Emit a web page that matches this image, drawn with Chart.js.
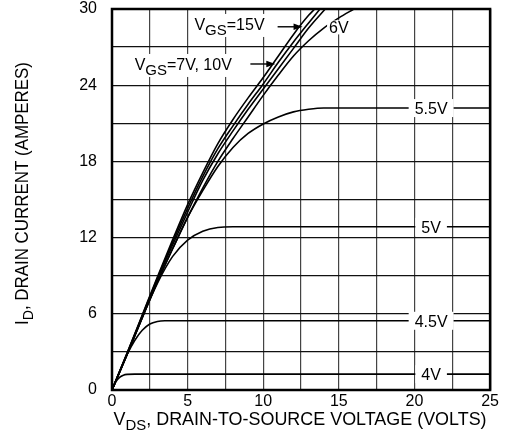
<!DOCTYPE html>
<html><head><meta charset="utf-8">
<script src="https://cdn.jsdelivr.net/npm/chart.js@4/dist/chart.umd.min.js"></script>
<style>html,body{margin:0;padding:0;background:#fff}#wrap{width:505px;height:432px;position:relative}</style>
</head><body><div id="wrap"><canvas id="c"></canvas></div>
<script>
// ---------- data ----------
const xTickLabels = [0, 5, 10, 15, 20, 25];
const yTickLabels = [0, 6, 12, 18, 24, 30];

const vds_15V = [0, 1, 2, 3, 4, 5, 6, 7, 8, 9, 10, 11, 12, 13, 13.4];
const id_15V  = [0, 2.9, 5.9, 8.9, 11.8, 14.6, 17.1, 19.4, 21.3, 23.0, 24.6, 26.3, 28.0, 29.5, 30];

const vds_10V = [0, 1, 2, 3, 4, 5, 6, 7, 8, 9, 10, 11, 12, 13, 13.75];
const id_10V  = [0, 2.9, 5.85, 8.8, 11.6, 14.3, 16.8, 19.0, 20.8, 22.5, 24.1, 25.8, 27.4, 28.9, 30];

const vds_7V = [0, 1, 2, 3, 4, 5, 6, 7, 8, 9, 10, 11, 12, 13, 14.1];
const id_7V  = [0, 2.85, 5.8, 8.7, 11.4, 14.0, 16.5, 18.6, 20.4, 22.1, 23.7, 25.3, 26.9, 28.5, 30];

const vds_6V = [0, 1, 2, 3, 4, 5, 6, 7, 8, 9, 10, 11, 12, 13, 14, 15, 16];
const id_6V  = [0, 2.8, 5.7, 8.5, 11.1, 13.6, 15.9, 18.0, 19.8, 21.5, 23.2, 24.8, 26.3, 27.5, 28.5, 29.3, 30];

const vds_5_5V = [0, 1, 2, 3, 4, 5, 6, 7, 8, 9, 10, 11, 12, 13, 14, 25];
const id_5_5V  = [0, 2.8, 5.7, 8.5, 11.1, 13.6, 15.7, 17.6, 19.1, 20.2, 20.95, 21.5, 21.9, 22.1, 22.2, 22.2];

const vds_5V = [0, 1, 2, 3, 4, 5, 6, 7, 8, 25];
const id_5V  = [0, 2.8, 5.7, 8.4, 10.5, 11.8, 12.5, 12.8, 12.85, 12.85];

const vds_4_5V = [0, 0.5, 1, 1.5, 2, 2.5, 3, 3.5, 25];
const id_4_5V  = [0, 1.45, 2.8, 3.9, 4.7, 5.2, 5.4, 5.45, 5.45];

const vds_4V = [0, 0.25, 0.5, 0.75, 1, 1.5, 25];
const id_4V  = [0, 0.65, 1.0, 1.17, 1.23, 1.25, 1.25];

// ---------- chart ----------
const FONT = '"Liberation Sans", Arial, Helvetica, sans-serif';
const zip = (xs, ys) => xs.map((x, i) => ({x, y: ys[i]}));

const series = [
  {name: '15V',  xs: vds_15V,  ys: id_15V},
  {name: '10V',  xs: vds_10V,  ys: id_10V},
  {name: '7V',   xs: vds_7V,   ys: id_7V},
  {name: '6V',   xs: vds_6V,   ys: id_6V},
  {name: '5.5V', xs: vds_5_5V, ys: id_5_5V, endLabel: true},
  {name: '5V',   xs: vds_5V,   ys: id_5V,   endLabel: true},
  {name: '4.5V', xs: vds_4_5V, ys: id_4_5V, endLabel: true},
  {name: '4V',   xs: vds_4V,   ys: id_4V,   endLabel: true}
];

// annotation anchors in data units
const endLabelX = 21.1;
const sixVLabel = {x: 15.0, y: 28.55};
const topNotes = [
  {segs: [{t: 'V'}, {t: 'GS', sub: true}, {t: '=15V'}], x: 5.45, y: 28.35, a0: 10.95, a1: 12.6, ay: 28.6},
  {segs: [{t: 'V'}, {t: 'GS', sub: true}, {t: '=7V, 10V'}], x: 1.5, y: 25.2, a0: 9.15, a1: 10.8, ay: 25.67}
];

function segFont(s, size, subSize) { return (s.sub ? subSize : size) + 'px ' + FONT; }
function richWidth(ctx, segs, size, subSize) {
  let w = 0;
  for (const s of segs) { ctx.font = segFont(s, size, subSize); w += ctx.measureText(s.t).width; }
  return w;
}
function drawRich(ctx, segs, x, y, size, subSize, subShift, sx) {
  ctx.save();
  ctx.translate(x, y);
  ctx.scale(sx || 1, 1);
  ctx.textAlign = 'left';
  ctx.textBaseline = 'alphabetic';
  let cx = 0;
  for (const s of segs) {
    ctx.font = segFont(s, size, subSize);
    ctx.fillText(s.t, cx, s.sub ? subShift : 0);
    cx += ctx.measureText(s.t).width;
  }
  ctx.restore();
}
function arrow(ctx, x0, x1, y) {
  ctx.save();
  ctx.strokeStyle = '#000'; ctx.fillStyle = '#000'; ctx.lineWidth = 1.4;
  ctx.beginPath(); ctx.moveTo(x0, y); ctx.lineTo(x1 - 6, y); ctx.stroke();
  ctx.beginPath(); ctx.moveTo(x1, y); ctx.lineTo(x1 - 9, y - 3.2); ctx.lineTo(x1 - 9, y + 3.2); ctx.closePath(); ctx.fill();
  ctx.restore();
}

const annotate = {
  id: 'annotate',
  afterDatasetsDraw(chart) {
    const ctx = chart.ctx, xs = chart.scales.x, ys = chart.scales.y;
    ctx.save();
    ctx.fillStyle = '#000';
    for (const s of series) {
      if (!s.endLabel) continue;
      const cx = xs.getPixelForValue(endLabelX);
      const cy = ys.getPixelForValue(s.ys[s.ys.length - 1]);
      ctx.font = '16px ' + FONT;
      const w = ctx.measureText(s.name).width;
      ctx.fillStyle = '#fff';
      ctx.fillRect(cx - w / 2 - 6, cy - 9, w + 12, 18);
      ctx.fillStyle = '#000';
      ctx.textAlign = 'center'; ctx.textBaseline = 'alphabetic';
      ctx.fillText(s.name, cx, cy + 6);
    }
    {
      const cx = xs.getPixelForValue(sixVLabel.x), cy = ys.getPixelForValue(sixVLabel.y);
      ctx.font = '16px ' + FONT;
      const w = ctx.measureText('6V').width;
      ctx.fillStyle = '#fff';
      ctx.fillRect(cx - w / 2 - 2, cy - 7, w + 4, 14);
      ctx.fillStyle = '#000';
      ctx.textAlign = 'center'; ctx.textBaseline = 'alphabetic';
      ctx.fillText('6V', cx, cy + 6);
    }
    for (const n of topNotes) {
      const x = xs.getPixelForValue(n.x), y = ys.getPixelForValue(n.y);
      const w = richWidth(ctx, n.segs, 16, 15);
      ctx.fillStyle = '#fff';
      ctx.fillRect(x - 3, y - 16, w + 5, 23);
      ctx.fillStyle = '#000';
      drawRich(ctx, n.segs, x, y, 16, 15, 5, 1);
      arrow(ctx, xs.getPixelForValue(n.a0), xs.getPixelForValue(n.a1), ys.getPixelForValue(n.ay));
    }
    ctx.restore();
  },
  afterDraw(chart) {
    const ctx = chart.ctx, a = chart.chartArea;
    ctx.save();
    ctx.strokeStyle = '#000'; ctx.lineWidth = 2.5;
    ctx.strokeRect(a.left, a.top, a.right - a.left, a.bottom - a.top);
    ctx.fillStyle = '#000';
    const xt = [{t: 'V'}, {t: 'DS', sub: true}, {t: ', DRAIN-TO-SOURCE VOLTAGE (VOLTS)'}];
    const xw = richWidth(ctx, xt, 18, 15);
    const xTarget = 373;
    const xLeft = (a.left + a.right) / 2 - xTarget / 2 - 1;
    drawRich(ctx, xt, xLeft, a.bottom + 35, 18, 15, 5, xTarget / xw);
    const yt = [{t: 'I'}, {t: 'D', sub: true}, {t: ', DRAIN CURRENT (AMPERES)'}];
    const yw = richWidth(ctx, yt, 18, 15);
    const yTarget = 263;
    ctx.save();
    ctx.translate(28, 193.5 + yTarget / 2);
    ctx.rotate(-Math.PI / 2);
    drawRich(ctx, yt, 0, 0, 18, 15, 5, yTarget / yw);
    ctx.restore();
    ctx.restore();
  }
};

new Chart(document.getElementById('c'), {
  type: 'scatter',
  data: {
    datasets: series.map(s => ({
      label: 'VGS=' + s.name,
      data: zip(s.xs, s.ys),
      showLine: true,
      borderColor: '#000',
      borderWidth: 1.6,
      pointRadius: 0,
      cubicInterpolationMode: 'monotone',
      fill: false
    }))
  },
  options: {
    responsive: true,
    maintainAspectRatio: false,
    animation: false,
    devicePixelRatio: 1,
    layout: {padding: {top: 9, right: 13, left: 0, bottom: 0}},
    plugins: {legend: {display: false}, tooltip: {enabled: false}},
    scales: {
      x: {
        type: 'linear', min: 0, max: 25,
        border: {display: false},
        grid: {color: '#444', lineWidth: 1.2, drawTicks: false},
        ticks: {
          stepSize: 2.5, autoSkip: false, maxRotation: 0, padding: 6,
          color: '#000', font: {family: FONT, size: 16, lineHeight: 0.75},
          callback: v => xTickLabels.includes(v) ? String(v) : ''
        },
        afterFit: s => { s.height = 42; }
      },
      y: {
        type: 'linear', min: 0, max: 30,
        border: {display: false},
        grid: {color: '#111', lineWidth: 1.2, drawTicks: true, tickLength: 12, tickColor: 'rgba(0,0,0,0)'},
        ticks: {
          stepSize: 3, autoSkip: false, padding: 3,
          color: '#000', font: {family: FONT, size: 16, lineHeight: 0.75},
          callback: v => yTickLabels.includes(v) ? String(v) : ''
        },
        afterFit: s => { s.width = 112; }
      }
    }
  },
  plugins: [annotate]
});
</script>
</body></html>
